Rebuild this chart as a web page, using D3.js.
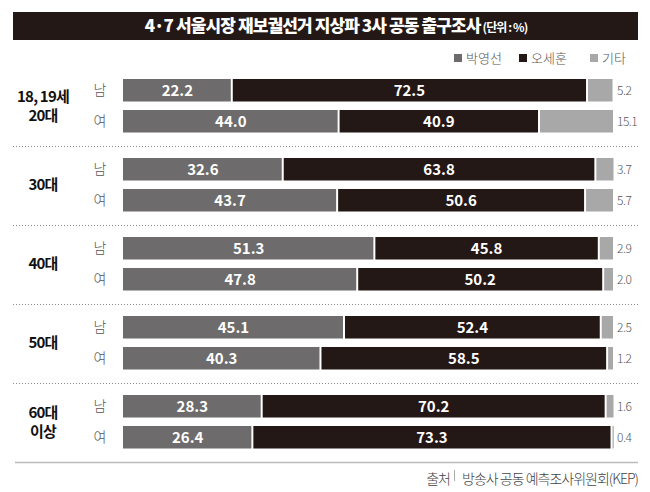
<!DOCTYPE html>
<html>
<head>
<meta charset="utf-8">
<script src="https://cdn.jsdelivr.net/npm/d3@7"></script>
<style>
  body { margin: 0; background: #fff; }
  svg { display: block; font-family: "Noto Sans CJK KR", "Noto Sans", sans-serif; }
</style>
</head>
<body>
<svg id="chart" width="650" height="492"></svg>
<script>
const groups = ['18, 19세|20대', '30대', '40대', '50대', '60대|이상'];
const genders = ['남', '여'];
const candidates = ['박영선', '오세훈', '기타'];
const colors = ['#6d6b6b', '#231815', '#a8a8a8'];

// [박영선, 오세훈, 기타] per group, 남 then 여
const male = [
    [22.2, 72.5, 5.2],
    [32.6, 63.8, 3.7],
    [51.3, 45.8, 2.9],
    [45.1, 52.4, 2.5],
    [28.3, 70.2, 1.6]
];
const female = [
    [44.0, 40.9, 15.1],
    [43.7, 50.6, 5.7],
    [47.8, 50.2, 2.0],
    [40.3, 58.5, 1.2],
    [26.4, 73.3, 0.4]
];

const svg = d3.select('#chart');

const xScale = d3.scaleLinear().domain([0, 100]).range([123, 613]);
const groupScale = d3.scaleBand().domain(d3.range(groups.length)).range([68, 463]);
const rowScale = d3.scaleBand().domain(genders).range([0, 53.5]).paddingInner(0.274);

const fillScale = d3.scaleOrdinal().domain(candidates).range(colors);

// title
svg.append('rect')
    .attr('x', 13).attr('y', 12).attr('width', 625).attr('height', 28)
    .attr('fill', '#231815');
const title = svg.append('text')
    .attr('x', 336).attr('y', 32)
    .attr('text-anchor', 'middle')
    .attr('fill', '#fff')
    .attr('font-weight', 900)
    .attr('font-size', 17)
    .attr('letter-spacing', -0.9);
title.append('tspan').text('4·7 서울시장 재보궐선거 지상파 3사 공동 출구조사');
title.append('tspan').attr('font-size', 12).attr('font-weight', 700).attr('dx', 2).text('(단위 : %)');

// legend
const legendX = [458, 523, 594];
const legend = svg.selectAll('g.legend')
    .data(candidates)
    .enter().append('g')
    .attr('class', 'legend')
    .attr('transform', (d, i) => `translate(${legendX[i]},58)`);
legend.append('rect')
    .attr('x', -4).attr('y', -4).attr('width', 8).attr('height', 8)
    .attr('fill', d => fillScale(d));
legend.append('text')
    .attr('x', 8).attr('y', 5)
    .attr('font-size', 13)
    .attr('font-weight', 300)
    .attr('fill', '#555')
    .text(d => d);

// rows
const rows = [];
groups.forEach((g, gi) => {
    [male[gi], female[gi]].forEach((vals, ri) => {
        let acc = 0;
        const segs = vals.map((v, ci) => {
            const s = { key: candidates[ci], v: v, x0: acc, x1: acc + v, ci: ci };
            acc += v;
            return s;
        });
        rows.push({ gi: gi, gender: genders[ri], segs: segs });
    });
});

const rowG = svg.selectAll('g.row')
    .data(rows)
    .enter().append('g')
    .attr('class', 'row')
    .attr('transform', d => `translate(0,${groupScale(d.gi) + 11 + rowScale(d.gender)})`);

const bh = rowScale.bandwidth();

rowG.append('text')
    .attr('x', 100).attr('y', bh / 2 + 5)
    .attr('text-anchor', 'middle')
    .attr('font-size', 14)
    .attr('font-weight', 300)
    .attr('fill', '#555')
    .text(d => d.gender);

rowG.selectAll('rect.seg')
    .data(d => d.segs)
    .enter().append('rect')
    .attr('class', 'seg')
    .attr('x', d => xScale(d.x0) + (d.ci > 0 ? 1 : 0))
    .attr('y', 0)
    .attr('width', d => Math.max(1.2, xScale(d.x1) - xScale(d.x0) - (d.ci > 0 ? 1 : 0) - (d.ci < 2 ? 1 : 0)))
    .attr('height', bh)
    .attr('fill', d => fillScale(d.key));

rowG.selectAll('text.val')
    .data(d => d.segs.filter(s => s.ci < 2))
    .enter().append('text')
    .attr('class', 'val')
    .attr('x', d => (xScale(d.x0) + xScale(d.x1)) / 2)
    .attr('y', bh / 2 + 5.5)
    .attr('text-anchor', 'middle')
    .attr('font-size', 15)
    .attr('font-weight', 700)
    .attr('fill', '#fff')
    .text(d => d.v.toFixed(1));

rowG.append('text')
    .attr('x', 617).attr('y', bh / 2 + 5)
    .attr('font-size', 12)
    .attr('font-weight', 300)
    .attr('fill', '#555')
    .attr('letter-spacing', -0.5)
    .text(d => d.segs[2].v.toFixed(1));

// group labels
const gl = svg.selectAll('text.group')
    .data(groups)
    .enter().append('text')
    .attr('class', 'group')
    .attr('x', 43)
    .attr('text-anchor', 'middle')
    .attr('font-size', 15)
    .attr('font-weight', 700)
    .attr('fill', '#111')
    .attr('letter-spacing', -0.8);
gl.each(function(d, i) {
    const lines = d.split('|');
    const cy = groupScale(i) + 11 + 53.5 / 2;
    const t = d3.select(this);
    lines.forEach((l, li) => {
        t.append('tspan')
            .attr('x', 43)
            .attr('y', cy + 5.5 + (li - (lines.length - 1) / 2) * 19)
            .text(l);
    });
});

// separators
svg.selectAll('line.sep')
    .data(d3.range(1, groups.length))
    .enter().append('line')
    .attr('class', 'sep')
    .attr('x1', 13).attr('x2', 638)
    .attr('y1', d => groupScale(d) - 0.5)
    .attr('y2', d => groupScale(d) - 0.5)
    .attr('stroke', '#888')
    .attr('stroke-width', 1)
    .attr('stroke-dasharray', '1,2');

svg.append('line')
    .attr('x1', 15).attr('x2', 638)
    .attr('y1', 462.5).attr('y2', 462.5)
    .attr('stroke', '#bbb')
    .attr('stroke-width', 1.5);

// source
const src = svg.append('g');
src.append('text')
    .attr('x', 638).attr('y', 484)
    .attr('text-anchor', 'end')
    .attr('font-size', 14)
    .attr('font-weight', 300)
    .attr('fill', '#444')
    .attr('letter-spacing', -1)
    .text('방송사 공동 예측조사위원회(KEP)');
src.append('line')
    .attr('x1', 454.5).attr('x2', 454.5)
    .attr('y1', 470).attr('y2', 481)
    .attr('stroke', '#999').attr('stroke-width', 0.8);
src.append('text')
    .attr('x', 450).attr('y', 484)
    .attr('text-anchor', 'end')
    .attr('font-size', 14)
    .attr('font-weight', 300)
    .attr('fill', '#444')
    .attr('letter-spacing', -1)
    .text('출처');
</script>
</body>
</html>
